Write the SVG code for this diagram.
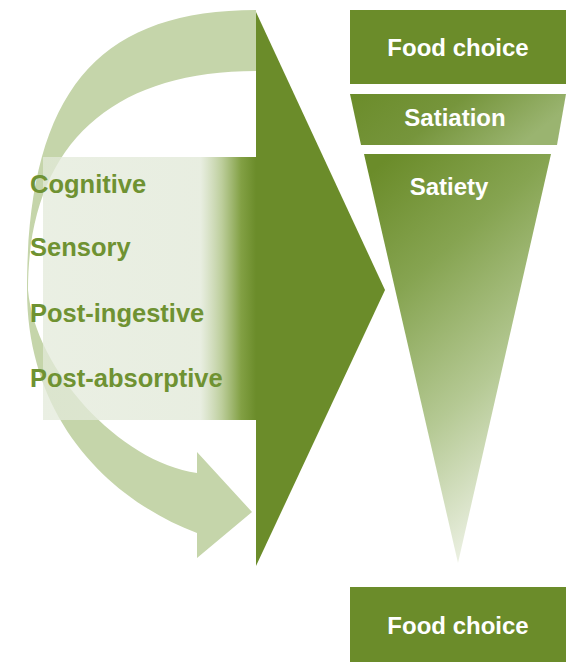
<svg xmlns="http://www.w3.org/2000/svg" width="579" height="669" viewBox="0 0 579 669">
  <defs>
    <style>
      .dark { fill: #6b8c2a; }
      .factor { font-family: "Liberation Sans", Arial, sans-serif; font-weight: bold; font-size: 25.5px; fill: #6f9232; }
      .label { font-family: "Liberation Sans", Arial, sans-serif; font-weight: bold; font-size: 24px; fill: #ffffff; text-anchor: middle; }
    </style>
    <linearGradient id="factorsFill" x1="43" y1="0" x2="256" y2="0" gradientUnits="userSpaceOnUse">
      <stop offset="0" stop-color="#e3eada" stop-opacity="0.75"/>
      <stop offset="0.74" stop-color="#e3eada" stop-opacity="0.82"/>
      <stop offset="0.84" stop-color="#b9cb96" stop-opacity="0.95"/>
      <stop offset="0.93" stop-color="#82a044"/>
      <stop offset="1" stop-color="#6b8c2a"/>
    </linearGradient>
    <linearGradient id="satiationFill" x1="0" y1="0" x2="1" y2="0.3">
      <stop offset="0" stop-color="#6b8c2a"/>
      <stop offset="0.5" stop-color="#76953c"/>
      <stop offset="1" stop-color="#9ab470"/>
    </linearGradient>
    <linearGradient id="satietyFill" x1="0.15" y1="0" x2="0.55" y2="1">
      <stop offset="0" stop-color="#6b8c2a"/>
      <stop offset="0.3" stop-color="#86a451"/>
      <stop offset="0.65" stop-color="#b5c994"/>
      <stop offset="1" stop-color="#eef2e6"/>
    </linearGradient>
  </defs>

  <!-- curved feedback arrow -->
  <g id="curved-arrow">
    <path fill="#c5d5aa" d="M256,10 C96,10 27,94 27,290 C27,420 110,500 197,533 L197,558 L252,512 L197,452 L197,473 C120,462 35,370 28,290 C28,148 108,71 256,71 Z"/>
  </g>

  <!-- large forward arrow -->
  <g id="main-arrow">
    <polygon class="dark" points="256,12 385,290 256,566"/>
  </g>

  <!-- factor panel -->
  <g id="factors">
    <rect x="43" y="157" width="213" height="263" fill="url(#factorsFill)"/>
    <text class="factor" x="30" y="193">Cognitive</text>
    <text class="factor" x="30" y="256">Sensory</text>
    <text class="factor" x="30" y="322">Post-ingestive</text>
    <text class="factor" x="30" y="387">Post-absorptive</text>
  </g>

  <g id="food-choice-top">
    <rect class="dark" x="350" y="10" width="216" height="74"/>
    <text class="label" x="458" y="56">Food choice</text>
  </g>

  <g id="satiation">
    <polygon points="350,94 566,94 557,145 361,145" fill="url(#satiationFill)"/>
    <text class="label" x="455" y="126">Satiation</text>
  </g>

  <g id="satiety">
    <polygon points="364,154 551,154 458,563" fill="url(#satietyFill)"/>
    <text class="label" x="449" y="195">Satiety</text>
  </g>

  <g id="food-choice-bottom">
    <rect class="dark" x="350" y="587" width="216" height="75"/>
    <text class="label" x="458" y="634">Food choice</text>
  </g>
</svg>
